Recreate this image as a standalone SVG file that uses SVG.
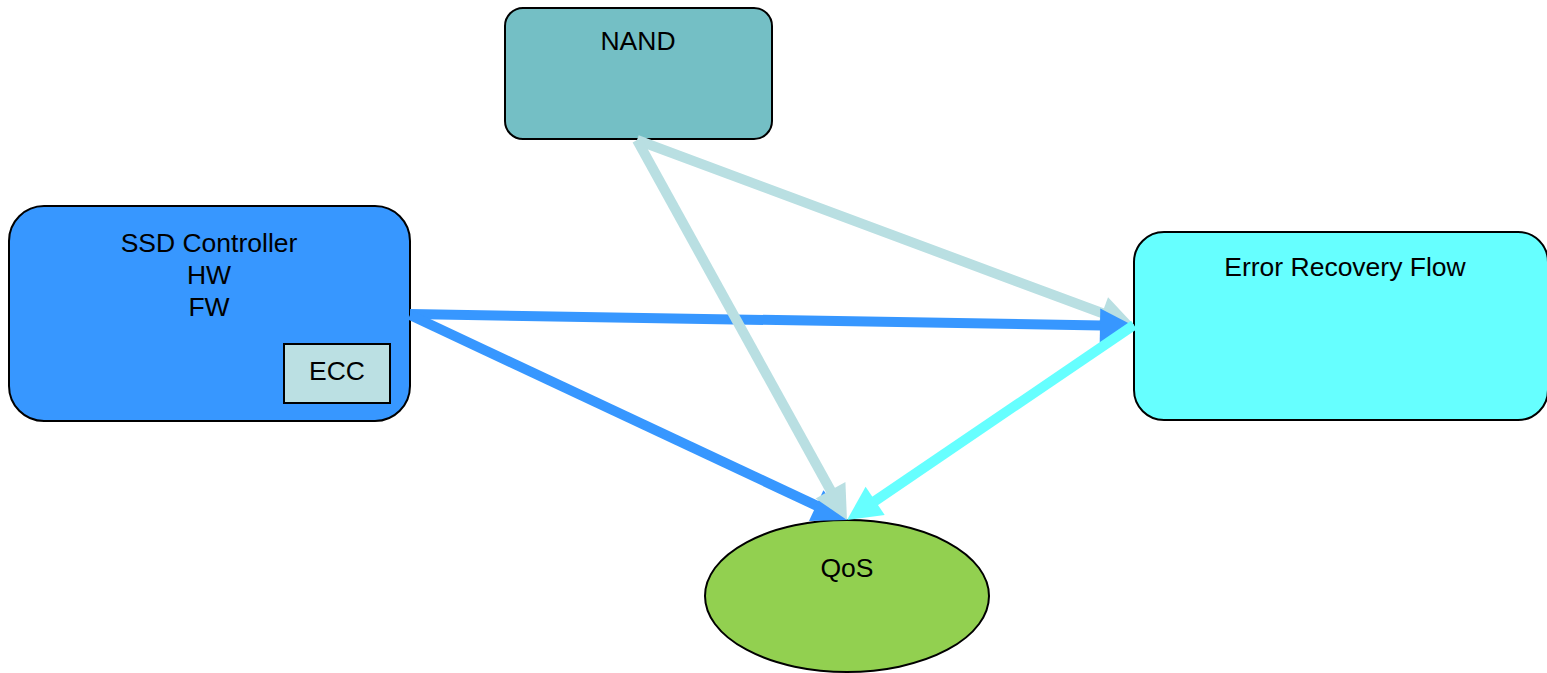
<svg xmlns="http://www.w3.org/2000/svg" width="1547" height="673" viewBox="0 0 1547 673">
  <style>
    .node { stroke: #000; stroke-width: 2; }
    .label { font-family: "Liberation Sans", Arial, sans-serif; font-size: 26.5px; fill: #000; text-anchor: middle; }
    .edge { fill: none; stroke-width: 10; }
  </style>
  <defs>
    <marker id="head-pale" markerUnits="userSpaceOnUse" markerWidth="40" markerHeight="40" viewBox="-4 -20 40 40" refX="0" refY="0" orient="auto" overflow="visible">
      <path d="M-2,-17 L32,0 L-2,17 z" fill="#B9DFE2"/>
    </marker>
    <marker id="head-blue" markerUnits="userSpaceOnUse" markerWidth="40" markerHeight="40" viewBox="-4 -20 40 40" refX="0" refY="0" orient="auto" overflow="visible">
      <path d="M-2,-17 L32,0 L-2,17 z" fill="#3797FF"/>
    </marker>
    <marker id="head-cyan" markerUnits="userSpaceOnUse" markerWidth="40" markerHeight="40" viewBox="-4 -20 40 40" refX="0" refY="0" orient="auto" overflow="visible">
      <path d="M-2,-17 L32,0 L-2,17 z" fill="#66FFFF"/>
    </marker>
  </defs>

  <g id="nand">
    <rect class="node" x="505" y="8" width="267" height="131" rx="18" fill="#74BFC5"/>
    <text class="label" x="638" y="50">NAND</text>
  </g>

  <g id="ssd-controller">
    <rect class="node" x="9" y="206" width="401" height="215" rx="35" fill="#3797FF"/>
    <text class="label" x="209" y="252">SSD Controller</text>
    <text class="label" x="209" y="284">HW</text>
    <text class="label" x="209" y="316">FW</text>
  </g>

  <g id="ecc">
    <rect class="node" x="284" y="344" width="106" height="59" fill="#BBE0E3"/>
    <text class="label" x="337" y="380">ECC</text>
  </g>

  <g id="error-recovery-flow">
    <rect class="node" x="1134" y="232" width="414" height="188" rx="30" fill="#66FFFF"/>
    <text class="label" x="1345" y="276">Error Recovery Flow</text>
  </g>

  <g id="qos">
    <ellipse class="node" cx="847" cy="596" rx="142" ry="76" fill="#92D050"/>
    <text class="label" x="847" y="577">QoS</text>
  </g>

  <g id="connectors">
    <line class="edge" x1="637" y1="140" x2="1104" y2="313.8" stroke="#B9DFE2" marker-end="url(#head-pale)"/>
    <line class="edge" x1="410" y1="314" x2="1102" y2="325.5" stroke="#3797FF" marker-end="url(#head-blue)"/>
    <line class="edge" x1="410" y1="315" x2="818" y2="506.4" stroke="#3797FF" marker-end="url(#head-blue)"/>
    <line class="edge" x1="637" y1="140" x2="831.5" y2="492" stroke="#B9DFE2" marker-end="url(#head-pale)"/>
    <line class="edge" x1="1134" y1="325" x2="873.5" y2="502" stroke="#66FFFF" marker-end="url(#head-cyan)"/>
  </g>
</svg>
